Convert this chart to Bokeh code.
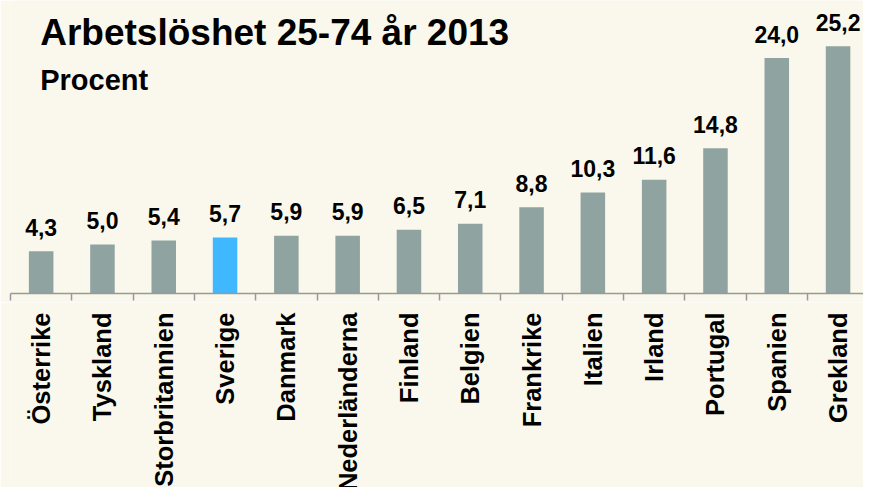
import math
from bokeh.plotting import figure
from bokeh.layouts import column
from bokeh.models import ColumnDataSource, Range1d, FixedTicker, Label
from bokeh.core.properties import value
from bokeh.embed import file_html
from bokeh.resources import INLINE

title_text = "Arbetslöshet 25-74 år 2013"
subtitle_text = "Procent"
countries = ["Österrike", "Tyskland", "Storbritannien", "Sverige", "Danmark",
             "Nederländerna", "Finland", "Belgien", "Frankrike", "Italien",
             "Irland", "Portugal", "Spanien", "Grekland"]
rates = [4.3, 5.0, 5.4, 5.7, 5.9, 5.9, 6.5, 7.1, 8.8, 10.3, 11.6, 14.8, 24.0, 25.2]
highlight = "Sverige"

BG = "#FAF8EC"
BAR = "#8FA3A0"
HI = "#40B8FF"
FONT = "Liberation Sans"

xs = [i + 0.5 for i in range(len(countries))]
src = ColumnDataSource(dict(
    x=xs, top=rates, name=countries,
    color=[HI if c == highlight else BAR for c in countries],
    lab=[f"{v:.1f}".replace(".", ",") for v in rates],
))

x_range = Range1d(0, 13.915)

# --- bars panel ---
p = figure(width=863, height=302, output_backend="svg", toolbar_location=None,
           x_range=x_range, y_range=Range1d(0, 29.87),
           min_border_left=10, min_border_right=0, min_border_top=0,
           min_border_bottom=9)
p.background_fill_color = BG
p.border_fill_color = BG
p.outline_line_color = None
p.grid.visible = False
p.yaxis.visible = False

p.vbar(x="x", top="top", width=0.4, bottom=0, color="color", line_color=None, source=src)
p.text(x="x", y="top", text="lab", source=src, text_align="center",
       text_baseline="alphabetic", y_offset=-24, text_font=value(FONT),
       text_font_style="bold", text_font_size="23px", text_color="#000000")

ax = p.xaxis[0]
ax.ticker = FixedTicker(ticks=[], minor_ticks=list(range(len(countries) + 1)))
ax.major_tick_out = 0
ax.major_tick_in = 0
ax.minor_tick_out = 7
ax.minor_tick_in = 0
ax.minor_tick_line_color = "#999999"
ax.minor_tick_line_width = 1.5
ax.axis_line_color = "#999999"
ax.axis_line_width = 1.5
ax.major_label_standoff = 0

p.add_layout(Label(x=0.485, y=26.6, text=title_text,
                   text_font=FONT, text_font_style="bold", text_font_size="37px",
                   text_baseline="alphabetic", text_color="#000000"))
p.add_layout(Label(x=0.485, y=21.8, text=subtitle_text,
                   text_font=FONT, text_font_style="bold", text_font_size="29px",
                   text_baseline="alphabetic", text_color="#000000"))

# --- category label panel ---
q = figure(width=863, height=185, output_backend="svg", toolbar_location=None,
           x_range=x_range, y_range=Range1d(0, 1),
           x_axis_location=None, y_axis_location=None,
           min_border_left=10, min_border_right=0, min_border_top=0,
           min_border_bottom=0)
q.background_fill_color = BG
q.border_fill_color = BG
q.outline_line_color = None
q.grid.visible = False
q.text(x="x", y=1, text="name", source=src, angle=math.pi / 2,
       text_align="right", text_baseline="middle", y_offset=10,
       text_font=value(FONT), text_font_style="bold", text_font_size="25.5px",
       text_color="#000000")

layout = column(p, q, spacing=0)
open("out.html", "w").write(file_html(layout, INLINE))
